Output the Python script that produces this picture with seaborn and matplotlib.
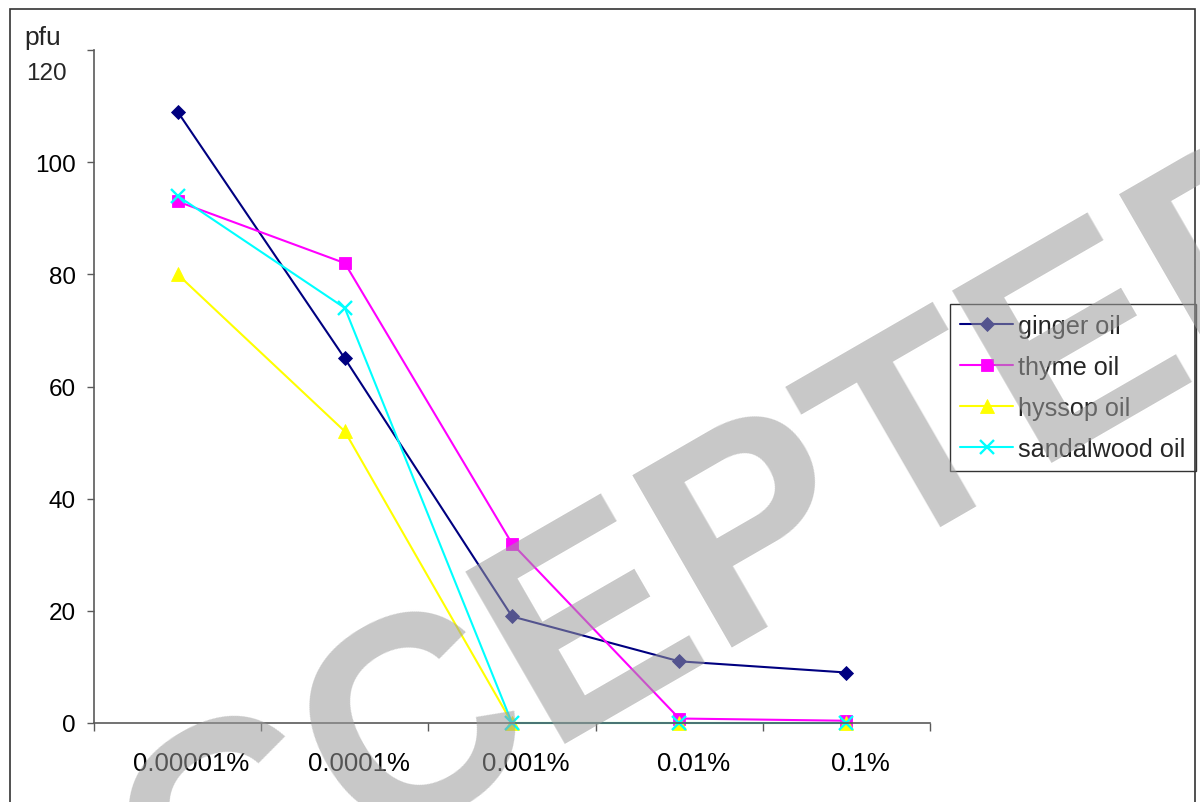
import numpy as np
import matplotlib
matplotlib.use("Agg")
import matplotlib.pyplot as plt
from matplotlib.patches import Rectangle
import seaborn as sns

# Plaque counts (pfu) per oil concentration
concentrations = ["0.00001%", "0.0001%", "0.001%", "0.01%", "0.1%"]
ginger = [109, 65, 19, 11, 9]
thyme = [93, 82, 32, 0.8, 0.4]
hyssop = [80, 52, 0, 0, 0]
sandalwood = [94, 74, 0, 0, 0]
series_names = ["ginger oil", "thyme oil", "hyssop oil", "sandalwood oil"]
y_ticks = [0, 20, 40, 60, 80, 100, 120]

sns.set_theme(style="white")
plt.rcParams["font.family"] = ["Liberation Sans", "DejaVu Sans"]

W, H = 1200, 803
fig = plt.figure(figsize=(W / 100, H / 100), dpi=100)


def px(x, y):
    """Pixel position (from top-left) to figure fraction."""
    return x / W, 1 - y / H


left, top = px(94, 51)
right, bottom = px(930, 724)
ax = fig.add_axes([left, bottom, right - left, top - bottom])

styles = {
    "ginger oil": dict(color="#000080", marker="D", ms=7.6, mew=0.6),
    "thyme oil": dict(color="#FF00FF", marker="s", ms=8.0, mew=0.6),
    "hyssop oil": dict(color="#FFFF00", marker="^", ms=9.5, mew=0.6),
    "sandalwood oil": dict(color="#00FFFF", marker="x", ms=9.5, mew=1.7),
}

pos = np.arange(len(concentrations))
for name, vals in zip(series_names, [ginger, thyme, hyssop, sandalwood]):
    st = styles[name]
    sns.lineplot(
        x=pos, y=vals, ax=ax, color=st["color"], marker=st["marker"],
        markersize=st["ms"], markeredgecolor=st["color"],
        markerfacecolor=st["color"], markeredgewidth=st["mew"],
        linewidth=1.5, label=name, clip_on=False,
    )

ax.set_xlim(-0.5, len(concentrations) - 0.5)
ax.set_ylim(0, 120)
ax.set_xlabel("")
ax.set_ylabel("")

# category boundaries carry the tick marks, labels sit between them
ax.set_xticks(np.arange(-0.5, len(concentrations), 1.0))
ax.set_xticklabels([])
label_shift = 14 / 167
ax.set_xticks(pos + label_shift, minor=True)
ax.set_xticklabels(concentrations, minor=True)

ax.set_yticks(y_ticks)
ax.set_yticklabels([str(v) if v != 120 else "" for v in y_ticks])

axis_grey = "#5a5a5a"
ax.tick_params(axis="x", which="major", direction="out", length=6,
               width=1.0, color=axis_grey, bottom=True)
ax.tick_params(axis="x", which="minor", length=0, pad=20, bottom=True,
               labelsize=18.5, labelcolor="black")
ax.tick_params(axis="y", which="major", direction="out", length=5,
               width=1.0, color=axis_grey, left=True, pad=8,
               labelsize=17.5, labelcolor="black")

for side in ["top", "right"]:
    ax.spines[side].set_visible(False)
for side in ["left", "bottom"]:
    ax.spines[side].set_color(axis_grey)
    ax.spines[side].set_linewidth(1.2)

ax.legend(
    loc="upper left", bbox_to_anchor=px(950, 305),
    bbox_transform=fig.transFigure, borderaxespad=0, frameon=True,
    fancybox=False, edgecolor="#333333", framealpha=1, fontsize=18.2,
    handlelength=2.1, handletextpad=0.2, labelspacing=0.67,
    borderpad=0.4,
)
ax.get_legend().get_frame().set_linewidth(1.0)

fig.text(*px(24, 45), "pfu", fontsize=19, ha="left", va="baseline")
fig.text(*px(26, 80), "120", fontsize=17.5, ha="left", va="baseline")

# outer chart frame
fig.add_artist(Rectangle(
    (10 / W, -0.05), (1195 - 10) / W, (1 - 10 / H) + 0.05,
    transform=fig.transFigure, fill=False, edgecolor="#333333",
    linewidth=1.2,
))

# watermark stamped over the chart
fig.text(*px(694, 665), "ACCEPTED", fontsize=208, fontweight="bold",
         family=["Liberation Sans", "DejaVu Sans"], rotation=30,
         rotation_mode="anchor", ha="center", va="baseline",
         color="#9b9b9b", alpha=0.55, zorder=10)

fig.savefig("out.png", dpi=100)
